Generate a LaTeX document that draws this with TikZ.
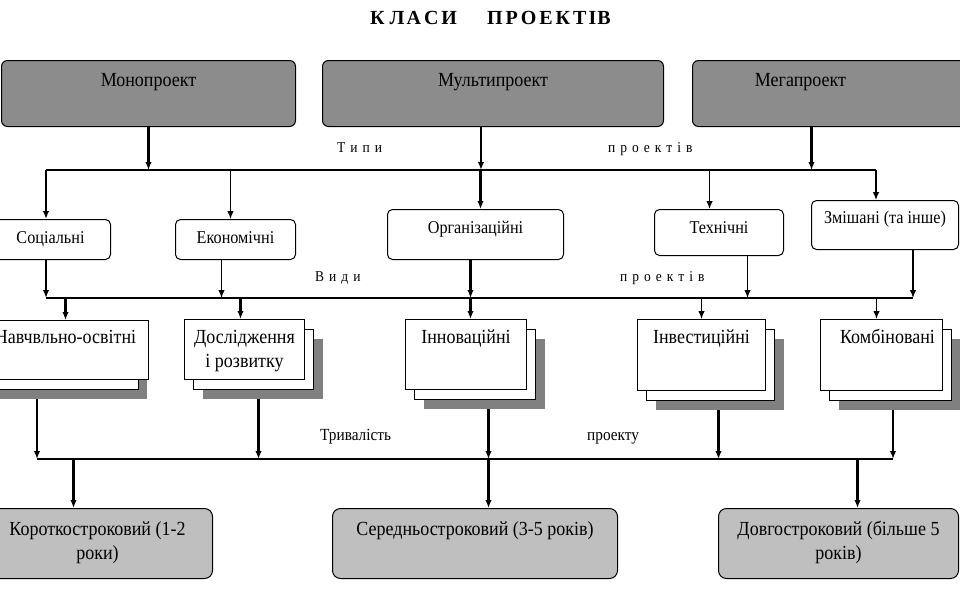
\documentclass[tikz,border=0pt]{standalone}
\usepackage{fontspec}
\newfontfamily\tnr[FakeStretch=0.9]{Liberation Serif}
\newfontfamily\tnrwide{Liberation Serif}
\usetikzlibrary{arrows.meta,shadows}

\begin{document}
\begin{tikzpicture}[x=1pt,y=-1pt,>={Latex[length=8pt,width=6.5pt]},
  every node/.append style={font=\tnr},
  classbox/.style={draw,line width=1pt,rounded corners=6pt,fill=black!45,inner sep=0pt,anchor=north west},
  kindbox/.style={draw,line width=1pt,rounded corners=5pt,fill=white,inner sep=0pt,anchor=north west},
  docstack/.style 2 args={draw,line width=1pt,fill=white,inner sep=0pt,anchor=north west,
    drop shadow={shadow xshift=#2,shadow yshift=-19pt,fill=black!50,opacity=1},
    copy shadow={shadow xshift=#1,shadow yshift=-10pt,fill=white,draw=black,line width=1pt}},
  docbox/.style={docstack={9pt}{18pt}},
  termbox/.style={draw,line width=1pt,rounded corners=8pt,fill=black!25,inner sep=0pt,anchor=north west},
  toptxt/.style={anchor=base,inner sep=0pt,align=center,yshift=#1,font={\tnr\fontsize{20}{24}\selectfont}},
  toptxt/.default=-26pt,
  kindtxt/.style={toptxt=#1,font={\tnr\fontsize{18}{22}\selectfont}},
  kindtxt/.default=-24pt,
  spaced/.style={anchor=base west,inner sep=0pt,font={\tnr\fontsize{15}{18}\selectfont\spaceskip=5pt}},
  arr/.style={->,line width=2.2pt},
  tarr/.style={->,line width=1.2pt},
  bus/.style={line width=1.5pt}]
  \useasboundingbox (0,0) rectangle (960,600);

  % заголовок
  \node[anchor=base west,inner sep=0pt,font={\tnrwide\fontsize{20}{24}\selectfont\bfseries}] (title) at (370,24)
    {К\kern5ptЛ\kern2ptА\kern3ptС\kern3ptИ\hspace{30pt}П\kern3ptР\kern3ptО\kern3ptЕ\kern3ptК\kern3ptТ\kern2ptІ\kern1ptВ};

  % класи
  \node[classbox,minimum width=294pt,minimum height=66pt,label={[toptxt]north:Монопроект}] (mono) at (1,60) {};
  \node[classbox,minimum width=341pt,minimum height=66pt,label={[toptxt]north:Мультипроект}] (multi) at (322,60) {};
  \node[classbox,minimum width=280pt,minimum height=66pt,label={[toptxt,xshift=-32pt]north:Мегапроект}] (mega) at (692,60) {};

  % типи
  \node[kindbox,minimum width=120pt,minimum height=40pt,label={[kindtxt]north:Соціальні}] (soc) at (-10,219) {};
  \node[kindbox,minimum width=120pt,minimum height=40pt,label={[kindtxt]north:Економічні}] (eco) at (175,219) {};
  \node[kindbox,minimum width=176pt,minimum height=50pt,label={[kindtxt]north:Організаційні}] (org) at (387,209) {};
  \node[kindbox,minimum width=129pt,minimum height=46pt,label={[kindtxt]north:Технічні}] (tech) at (654,209) {};
  \node[kindbox,minimum width=147pt,minimum height=49pt,label={[kindtxt=-23pt]north:Змішані (та інше)}] (mixed) at (811,200) {};

  % види
  \node[docstack={-10pt}{-2pt},minimum width=166pt,minimum height=59pt,label={[toptxt=-23pt]north:Навчвльно-освітні}] (edu) at (-18,320) {};
  \node[docbox,minimum width=120pt,minimum height=60pt,label={[toptxt=-48pt]north:{Дослідження\\і розвитку}}] (res) at (184,319) {};
  \node[docbox,minimum width=121pt,minimum height=70pt,label={[toptxt=-24pt]north:Інноваційні}] (inn) at (405,319) {};
  \node[docbox,minimum width=128pt,minimum height=71pt,label={[toptxt=-24pt]north:Інвестиційні}] (inv) at (637,319) {};
  \node[docbox,minimum width=122pt,minimum height=71pt,label={[toptxt=-24pt,xshift=6pt]north:Комбіновані}] (comb) at (820,319) {};

  % тривалість
  \node[termbox,minimum width=230pt,minimum height=70pt,label={[toptxt=-51pt]north:{Короткостроковий (1-2\\роки)}}] (short) at (-18,508) {};
  \node[termbox,minimum width=285pt,minimum height=70pt,label={[toptxt=-27pt]north:Середньостроковий (3-5 років)}] (mid) at (332,508) {};
  \node[termbox,minimum width=240pt,minimum height=70pt,label={[toptxt=-51pt]north:{Довгостроковий (більше 5\\років)}}] (long) at (718,508) {};

  % підписи ліній
  \node[spaced] (typesL) at (337,152) {Т и п и};
  \node[spaced] (typesR) at (608,152) {п р о е к т і в};
  \node[spaced] (kindsL) at (315,281) {В и д и};
  \node[spaced] (kindsR) at (620,281) {п р о е к т і в};
  \node[anchor=base west,inner sep=0pt,font={\tnr\fontsize{17}{20}\selectfont}] (termL) at (320,440) {Тривалість};
  \node[anchor=base west,inner sep=0pt,font={\tnr\fontsize{17}{20}\selectfont}] (termR) at (587,440) {проекту};

  % шини
  \coordinate (typesW) at (46,170);
  \coordinate (typesE) at (876,170);
  \coordinate (kindsW) at (46,298);
  \coordinate (kindsE) at (913,298);
  \coordinate (termW) at (37,459);
  \coordinate (termE) at (893,459);
  \draw[bus] (typesW) -- (typesE);
  \draw[bus] (kindsW) -- (kindsE);
  \draw[bus] (termW) -- (termE);

  % класи -> типи
  \draw[arr] (mono.south) -- (mono.south |- typesW);
  \draw[arr] ([xshift=-12pt]multi.south) -- ([xshift=-12pt]multi.south |- typesW);
  \draw[arr] ([xshift=-21pt]mega.south) -- ([xshift=-21pt]mega.south |- typesW);
  \draw[arr] (typesW) -- (typesW |- soc.north);
  \draw[tarr] ([xshift=-5pt]eco.north |- typesW) -- ([xshift=-5pt]eco.north);
  \draw[arr] ([xshift=5pt]org.north |- typesW) -- ([xshift=5pt]org.north);
  \draw[tarr] ([xshift=-9.5pt]tech.north |- typesW) -- ([xshift=-9.5pt]tech.north);
  \draw[tarr] (typesE) -- (typesE |- mixed.north);

  % типи -> види
  \draw[arr] (soc.south -| kindsW) -- (kindsW);
  \draw[tarr] ([xshift=-14pt]eco.south) -- ([xshift=-14pt]eco.south |- kindsW);
  \draw[arr] ([xshift=-5pt]org.south) -- ([xshift=-5pt]org.south |- kindsW);
  \draw[arr] ([xshift=-5pt]org.south |- kindsW) -- ([xshift=-5pt]org.south |- inn.north);
  \draw[tarr] ([xshift=28.5pt]tech.south) -- ([xshift=28.5pt]tech.south |- kindsW);
  \draw[tarr] (mixed.south -| kindsE) -- (kindsE);
  \draw[arr] (edu.north |- kindsW) -- (edu.north);
  \draw[arr] ([xshift=-4pt]res.north |- kindsW) -- ([xshift=-4pt]res.north);
  \draw[tarr] (inv.north |- kindsW) -- (inv.north);
  \draw[tarr] ([xshift=-5pt]comb.north |- kindsW) -- ([xshift=-5pt]comb.north);

  % види -> тривалість
  \draw[arr] ([yshift=-19pt]edu.south -| termW) -- (termW);
  \draw[arr] ([xshift=14pt,yshift=-19pt]res.south) -- ([xshift=14pt]res.south |- termW);
  \draw[arr] ([xshift=22.5pt,yshift=-19pt]inn.south) -- ([xshift=22.5pt]inn.south |- termW);
  \draw[arr] ([xshift=17pt,yshift=-19pt]inv.south) -- ([xshift=17pt]inv.south |- termW);
  \draw[arr] ([yshift=-19pt]comb.south -| termE) -- (termE);
  \draw[arr] ([xshift=-24pt]short.north |- termW) -- ([xshift=-24pt]short.north);
  \draw[arr] ([xshift=22.5pt]inn.south |- termW) -- ([xshift=22.5pt]inn.south |- mid.north);
  \draw[arr] ([xshift=19pt]long.north |- termW) -- ([xshift=19pt]long.north);
\end{tikzpicture}
\end{document}
